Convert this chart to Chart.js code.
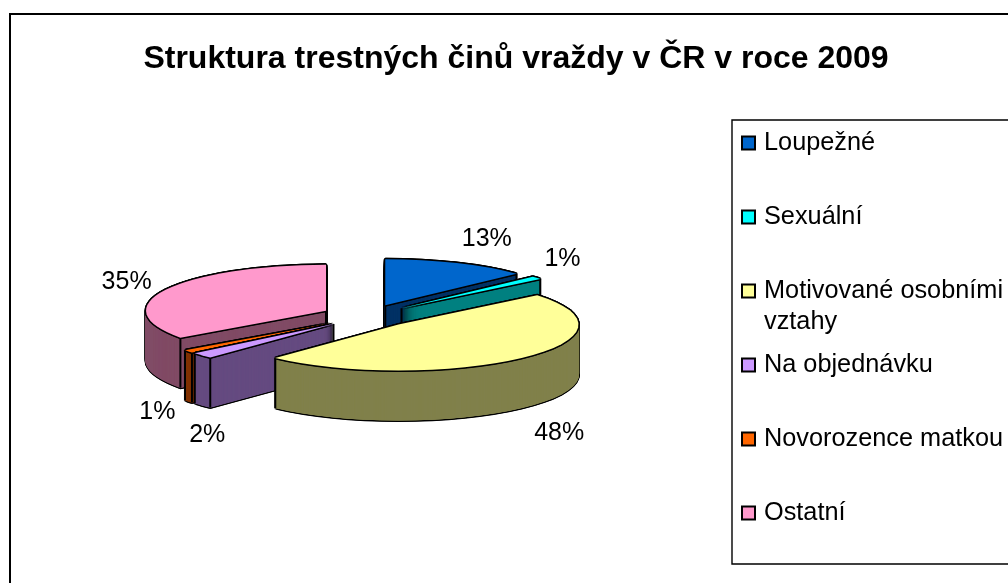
<!DOCTYPE html>
<html lang="cs">
<head>
<meta charset="utf-8">
<title>Struktura trestných činů vraždy</title>
<style>html,body{margin:0;padding:0;background:#fff;overflow:hidden}canvas{display:block}</style>
<script src="https://cdn.jsdelivr.net/npm/chart.js@4"></script>
</head>
<body>
<canvas id="c" width="1008" height="583"></canvas>
<script>
const chartTitle = "Struktura trestných činů vraždy v ČR v roce 2009";
const categories = ["Loupežné","Sexuální","Motivované osobními vztahy","Na objednávku","Novorozence matkou","Ostatní"];
const shares = [13,1,48,2,1,35];
const topColors = ["#0066CC","#00FFFF","#FFFF99","#CC99FF","#FF6600","#FF99CC"];
const wallColors = ["#003366","#008080","#80804C","#664C80","#803300","#804C66"];
const drawOrder = [0,1,5,4,3,2];
const labelNudge = [[30,-24],[26,-19],[37.5,75],[5,80],[-31,60.6],[-39,-8]];

const FONT = "'Liberation Sans', Arial, sans-serif";
const CX = 367, CY = 316, RX = 180, RY = 46, EXPLODE = 46, DEPTH = 50;
const SQ = RY / RX;
const RING = [[-1.5,0],[1.5,0],[0,-1.5],[0,1.5],[-1,-1],[1,-1],[-1,1],[1,1]];

function tinted(el, color){
  const c = Object.create(el);
  c.options = Object.assign({}, el.options, {backgroundColor: color, borderWidth: 0});
  return c;
}
function apexOf(el){
  const mid = (el.startAngle + el.endAngle) / 2;
  return {x: CX + EXPLODE * Math.cos(mid), y: CY + EXPLODE * Math.sin(mid) * SQ, mid};
}
function stamp(ctx, el, tint, dx, dy){
  const a = apexOf(el);
  ctx.save();
  ctx.translate(a.x + dx, a.y + dy);
  ctx.scale(1, SQ);
  ctx.translate(-el.x, -el.y);
  tinted(el, tint).draw(ctx);
  ctx.restore();
}
const pie3d = {
  id: 'pie3d',
  beforeDraw(chart){
    const ctx = chart.ctx;
    ctx.save();
    ctx.fillStyle = '#fff';
    ctx.fillRect(0,0,chart.width,chart.height);
    ctx.strokeStyle = '#000';
    ctx.lineWidth = 2;
    ctx.beginPath();
    ctx.moveTo(10, chart.height + 2); ctx.lineTo(10, 14); ctx.lineTo(chart.width + 2, 14);
    ctx.stroke();
    ctx.restore();
  },
  beforeDatasetsDraw(chart){
    const ctx = chart.ctx, arcs = chart.getDatasetMeta(0).data;
    drawOrder.forEach(i => {
      const el = arcs[i], a = apexOf(el);
      for (let d = DEPTH; d >= 0; d -= 1) RING.forEach(r => stamp(ctx, el, '#000', r[0], d + r[1]));
      for (let d = DEPTH; d >= 0; d -= 0.5) {
        stamp(ctx, el, wallColors[i], -0.7, d);
        stamp(ctx, el, wallColors[i], 0.7, d);
        stamp(ctx, el, wallColors[i], 0, d);
      }
      ctx.save();
      ctx.strokeStyle = '#000';
      ctx.lineWidth = 2;
      [el.startAngle, el.endAngle].forEach((t, k) => {
        // the leading corner of a back-right slice sits behind its own cut face
        if (k === 0 && Math.cos(t) > 0 && Math.sin(t) < 0) return;
        const px = a.x + el.outerRadius * Math.cos(t), py = a.y + el.outerRadius * Math.sin(t) * SQ;
        ctx.beginPath(); ctx.moveTo(px, py); ctx.lineTo(px, py + DEPTH); ctx.stroke();
      });
      // the apex edge only shows on slices that do not reach the front of the pie
      if (!(el.startAngle < Math.PI / 2 && el.endAngle > Math.PI / 2)) {
        ctx.beginPath(); ctx.moveTo(a.x, a.y); ctx.lineTo(a.x, a.y + DEPTH); ctx.stroke();
      }
      ctx.restore();
      RING.forEach(r => stamp(ctx, el, '#000', r[0], r[1]));
      stamp(ctx, el, topColors[i], 0, 0);
    });
    // percentage labels
    ctx.save();
    ctx.font = "25px " + FONT;
    ctx.fillStyle = '#000';
    ctx.textAlign = 'center';
    ctx.textBaseline = 'middle';
    arcs.forEach((el, i) => {
      const a = apexOf(el);
      const x = a.x + el.outerRadius * Math.cos(a.mid) + labelNudge[i][0];
      const y = a.y + el.outerRadius * Math.sin(a.mid) * SQ + labelNudge[i][1];
      ctx.fillText(shares[i] + '%', x, y);
    });
    ctx.restore();
    return false;
  },
  afterDraw(chart){
    // legend box, open to the right edge as in the source
    const ctx = chart.ctx;
    const L = 732, T = 120, B = 564, ROW = 74, FIRST = 143;
    ctx.save();
    ctx.strokeStyle = '#000';
    ctx.lineWidth = 1.4;
    ctx.beginPath();
    ctx.moveTo(chart.width + 2, T); ctx.lineTo(L, T); ctx.lineTo(L, B); ctx.lineTo(chart.width + 2, B);
    ctx.stroke();
    ctx.font = "25.3px " + FONT;
    ctx.textBaseline = 'middle';
    ctx.textAlign = 'left';
    categories.forEach((name, i) => {
      const y = FIRST + i * ROW;
      ctx.fillStyle = topColors[i];
      ctx.fillRect(742, y - 6.5, 13, 13);
      ctx.strokeStyle = '#000';
      ctx.lineWidth = 2;
      ctx.strokeRect(742, y - 6.5, 13, 13);
      ctx.fillStyle = '#000';
      const lines = [];
      let cur = '';
      name.split(' ').forEach(w => {
        const t = cur ? cur + ' ' + w : w;
        if (ctx.measureText(t).width > 244 && cur) { lines.push(cur); cur = w; } else cur = t;
      });
      lines.push(cur);
      lines.forEach((ln, k) => ctx.fillText(ln, 764, y + 0.5 + k * 31));
    });
    ctx.restore();
  }
};
new Chart(document.getElementById('c'), {
  type: 'pie',
  data: {
    labels: categories,
    datasets: [{ data: shares, backgroundColor: topColors, borderWidth: 0, radius: RX }]
  },
  plugins: [pie3d],
  options: {
    responsive: false,
    animation: false,
    layout: { padding: { left: 24, top: 30 } },
    plugins: {
      legend: { display: false },
      tooltip: { enabled: false },
      title: {
        display: true,
        fullSize: false,
        text: chartTitle,
        color: '#000',
        font: { family: FONT, size: 32, weight: 'bold' },
        padding: { top: 10, bottom: 10 }
      }
    }
  }
});
</script>
</body>
</html>
